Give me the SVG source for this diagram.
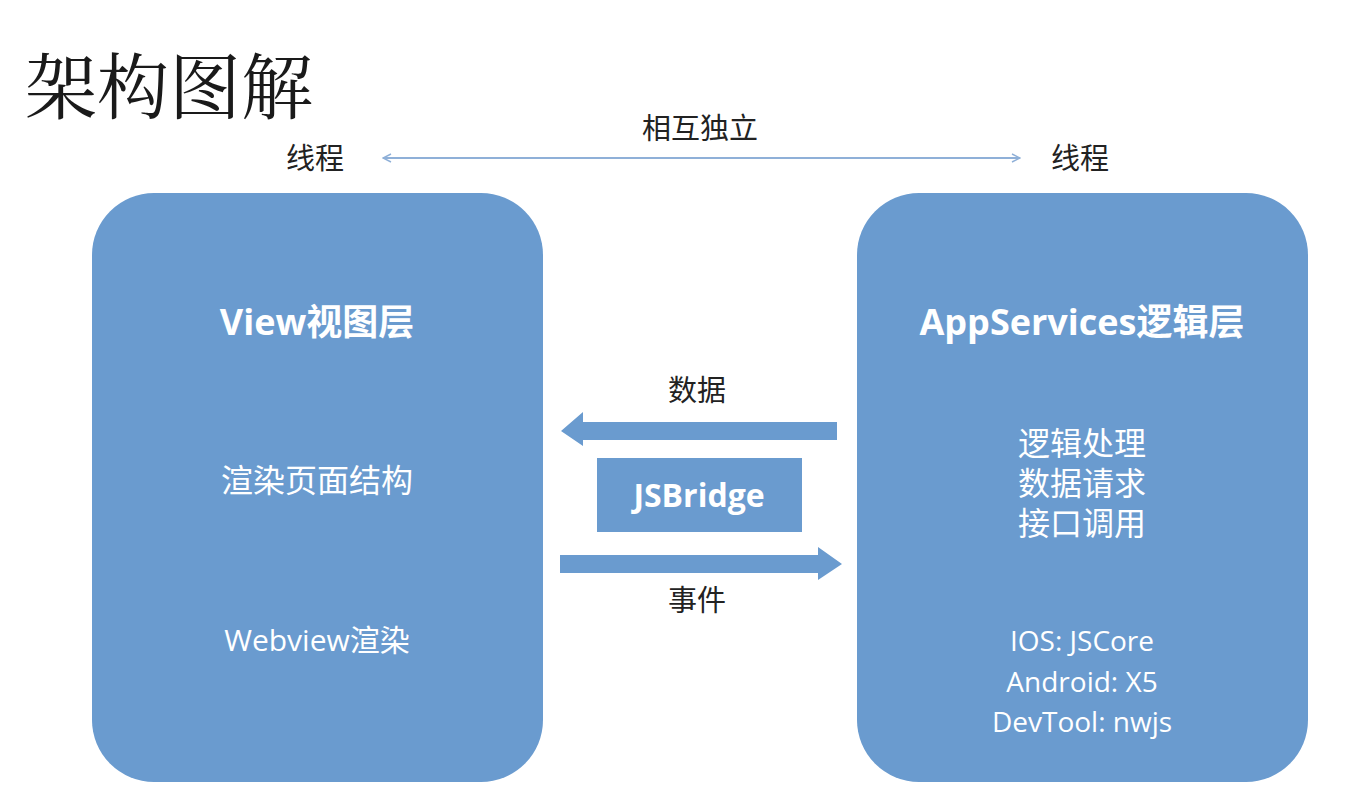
<svg xmlns="http://www.w3.org/2000/svg" width="1370" height="812" viewBox="0 0 1370 812">
<defs>
<style>
.box{fill:#6A9BCF;}
.w{fill:#FFFFFF;font-family:"Open Sans","Noto Sans CJK SC",sans-serif;text-anchor:middle;}
.k{fill:#222222;font-family:"Noto Sans CJK SC",sans-serif;text-anchor:middle;font-size:29px;}
.blk{fill:#6A9BCF;}
</style>
<marker id="ah" viewBox="0 0 10 10" refX="9" refY="5" markerWidth="10" markerHeight="10" markerUnits="userSpaceOnUse" orient="auto-start-reverse">
<path d="M1,1 L9,5 L1,9" fill="none" stroke="#8FB0D8" stroke-width="1.4"/>
</marker>
</defs>
<rect width="1370" height="812" fill="#FFFFFF"/>
<text x="25" y="113" font-family="'Noto Serif CJK SC','Noto Sans CJK SC',serif" font-size="72" fill="#1a1a1a">架构图解</text>
<g id="thread-left"><text class="k" x="315" y="169">线程</text></g>
<g id="thread-right"><text class="k" x="1080" y="169">线程</text></g>
<g id="independent"><text class="k" x="700" y="139">相互独立</text></g>
<g id="view">
<rect class="box" x="92" y="193" width="451" height="589" rx="62"/>
<text class="w" x="317" y="335" font-size="36" font-weight="bold">View视图层</text>
<text class="w" x="317" y="492" font-size="32">渲染页面结构</text>
<text class="w" x="317" y="651" font-size="30">Webview渲染</text>
</g>
<g id="appservices">
<rect class="box" x="857" y="193" width="451" height="589" rx="62"/>
<text class="w" x="1082" y="335" font-size="36" font-weight="bold">AppServices逻辑层</text>
<text class="w" x="1082" y="455" font-size="32">逻辑处理</text>
<text class="w" x="1082" y="495" font-size="32">数据请求</text>
<text class="w" x="1082" y="535" font-size="32">接口调用</text>
<text class="w" x="1082" y="651" font-size="28">IOS: JSCore</text>
<text class="w" x="1082" y="692" font-size="28">Android: X5</text>
<text class="w" x="1082" y="732" font-size="28">DevTool: nwjs</text>
</g>
<g id="jsbridge">
<rect class="box" x="597" y="458" width="205" height="74"/>
<text class="w" x="699" y="507" font-size="32" font-weight="bold">JSBridge</text>
</g>
<g id="connectors">
<line x1="383" y1="158" x2="1020" y2="158" stroke="#8FB0D8" stroke-width="2" marker-start="url(#ah)" marker-end="url(#ah)"/>
<path class="blk" d="M837,422 L583,422 L583,412 L561,431 L583,446 L583,440 L837,440 Z"/>
<text class="k" x="697" y="401">数据</text>
<path class="blk" d="M560,555 L818,555 L818,547 L842,564 L818,580 L818,573 L560,573 Z"/>
<text class="k" x="697" y="611">事件</text>
</g>
</svg>
